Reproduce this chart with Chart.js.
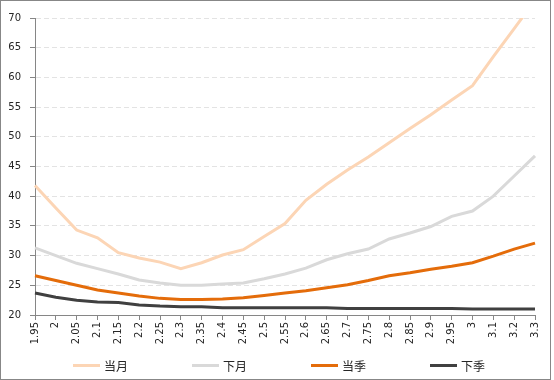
<!DOCTYPE html>
<html>
<head>
<meta charset="utf-8">
<script src="https://cdn.jsdelivr.net/npm/chart.js@4/dist/chart.umd.min.js"></script>
<style>
  html, body { margin: 0; padding: 0; background: #fff; }
  #wrap { position: relative; width: 554px; height: 380px; overflow: hidden; background: #fff; }
  #c { display: block; position: absolute; left: 0; top: 0; }
  #frame { position: absolute; left: 0; top: 0; width: 551px; height: 380px; box-sizing: border-box; border: 1px solid #878787; pointer-events: none; }
  #legend { position: absolute; left: 73px; top: 356px; display: flex; font-family: "Noto Sans CJK SC", sans-serif; font-size: 12px; color: #262626; }
  .item { width: 119px; display: flex; align-items: center; height: 18px; }
  .swatch { width: 27px; height: 3px; margin-right: 4px; }
</style>
</head>
<body>
<div id="wrap">
  <canvas id="c" width="554" height="380"></canvas>
  <div id="legend"></div>
  <div id="frame"></div>
</div>
<script>
const categories = ['1.95','2','2.05','2.1','2.15','2.2','2.25','2.3','2.35','2.4','2.45','2.5','2.55','2.6','2.65','2.7','2.75','2.8','2.85','2.9','2.95','3','3.1','3.2','3.3'];
const seriesNames = ['当月','下月','当季','下季'];
const dangYue = [41.8, 38.0, 34.3, 33.0, 30.5, 29.6, 28.9, 27.8, 28.8, 30.1, 31.0, 33.2, 35.4, 39.3, 42.0, 44.4, 46.6, 49.0, 51.4, 53.7, 56.2, 58.6, 63.5, 68.2, 73.0];
const xiaYue  = [31.3, 30.0, 28.7, 27.8, 26.9, 25.9, 25.4, 25.0, 25.0, 25.2, 25.4, 26.1, 26.9, 27.9, 29.3, 30.3, 31.1, 32.8, 33.8, 34.9, 36.6, 37.5, 40.0, 43.4, 46.8];
const dangJi  = [26.6, 25.8, 25.0, 24.2, 23.7, 23.2, 22.8, 22.6, 22.6, 22.7, 22.9, 23.3, 23.7, 24.1, 24.6, 25.1, 25.8, 26.6, 27.1, 27.7, 28.2, 28.8, 29.9, 31.1, 32.1];
const xiaJi   = [23.7, 23.0, 22.5, 22.2, 22.1, 21.7, 21.5, 21.4, 21.4, 21.2, 21.2, 21.2, 21.2, 21.2, 21.2, 21.1, 21.1, 21.1, 21.1, 21.1, 21.1, 21.0, 21.0, 21.0, 21.0];
const yMin = 20, yMax = 70, yStep = 5;

const colors = ['#FCD5B5', '#D9D9D9', '#E46C0A', '#404040'];
const values = [dangYue, xiaYue, dangJi, xiaJi];

const datasets = seriesNames.map((name, i) => ({
  label: name,
  data: values[i],
  borderColor: colors[i],
  backgroundColor: colors[i],
  borderWidth: 3,
  pointRadius: 0,
  pointHoverRadius: 0,
  tension: 0,
  fill: false,
  order: i
}));

const axisColor = '#868686';
const tickFont = { family: 'DejaVu Sans', size: 10 };

new Chart(document.getElementById('c'), {
  type: 'line',
  data: { labels: categories, datasets },
  options: {
    responsive: false,
    animation: false,
    devicePixelRatio: 1,
    layout: { padding: { left: 0, right: 19, top: 18, bottom: 0 } },
    plugins: { legend: { display: false }, tooltip: { enabled: false } },
    scales: {
      x: {
        offset: false,
        grid: { display: true, drawOnChartArea: false, drawTicks: true, tickLength: 5, tickColor: axisColor, color: axisColor },
        border: { display: true, color: axisColor, width: 1 },
        ticks: { autoSkip: false, minRotation: 90, maxRotation: 90, padding: 2, color: '#262626', font: tickFont },
        afterFit: (s) => { s.height = 65; }
      },
      y: {
        min: yMin, max: yMax,
        grid: { color: '#E3E3E3', lineWidth: 1, drawTicks: true, tickLength: 5, tickColor: axisColor, tickBorderDash: [] },
        border: { display: true, color: axisColor, width: 1, dash: [5, 3] },
        ticks: { stepSize: yStep, padding: 9, color: '#262626', font: tickFont },
        afterFit: (s) => { s.width = 35; }
      }
    }
  }
});

const legend = document.getElementById('legend');
seriesNames.forEach((name, i) => {
  const item = document.createElement('div');
  item.className = 'item';
  const sw = document.createElement('span');
  sw.className = 'swatch';
  sw.style.background = colors[i];
  const t = document.createElement('span');
  t.textContent = name;
  item.appendChild(sw);
  item.appendChild(t);
  legend.appendChild(item);
});
</script>
</body>
</html>
